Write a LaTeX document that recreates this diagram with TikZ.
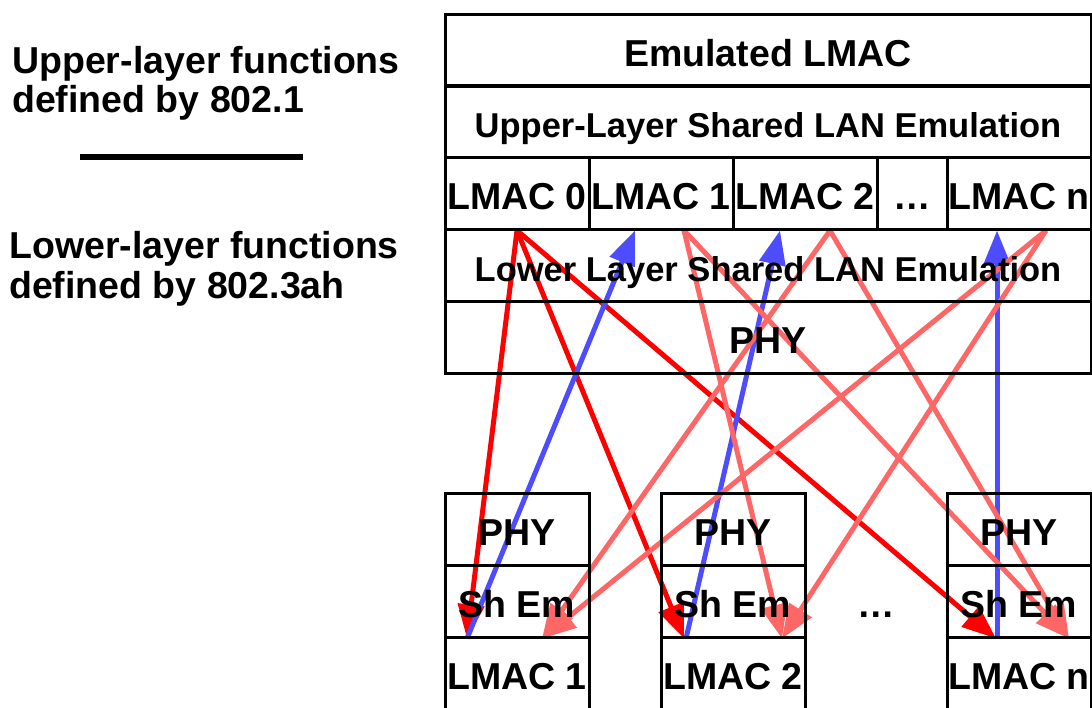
\documentclass[tikz,border=0pt]{standalone}
\usepackage{fontspec}
\setmainfont{Liberation Sans}
\usetikzlibrary{arrows.meta, backgrounds}
\definecolor{dnred}{RGB}{255,0,0}
\definecolor{emred}{RGB}{255,102,102}
\definecolor{upblue}{RGB}{77,77,255}
\tikzset {
    x=1pt, y=-1pt,
    cell/.style={draw, line width=3pt, inner sep=0pt, minimum height=72pt,
        font=\fontsize{37.5}{44}\selectfont\bfseries, text height=32pt, text depth=0pt},
    wide/.style={cell, minimum width=646pt},
    slot/.style={cell, minimum width=144pt},
    sidetext/.style={anchor=base west, inner sep=0pt, font=\fontsize{37.5}{44}\selectfont\bfseries},
    link/.style={line width=5pt, -{Triangle[length=34pt, width=26pt]}}
}

\begin{document}
\begin{tikzpicture}
                    \useasboundingbox (0,0) rectangle (1092,707);

                    \node[sidetext] (upA) at (12,73) {Upper-layer functions};
                    \node[sidetext] (upB) at (12,112) {defined by 802.1};
                    \draw[line width=6pt] (80,157) -- (303,157);
                    \node[sidetext] (loA) at (9,258) {Lower-layer functions};
                    \node[sidetext] (loB) at (9,298) {defined by 802.3ah};

                    \node[wide] (emu) at (768,50) {Emulated LMAC};
                    \node[wide, font=\fontsize{34.5}{40}\selectfont\bfseries] (ulse) at (768,121.5) {Upper-Layer Shared LAN Emulation};
                    \node[slot] (lmac0) at (517,193) {LMAC 0};
                    \node[slot] (lmac1) at (661,193) {LMAC 1};
                    \node[slot] (lmac2) at (805,193) {LMAC 2};
                    \node[cell, minimum width=70pt] (ldots) at (912,193) {\ldots};
                    \node[slot] (lmacn) at (1019,193) {LMAC n};
                    \node[wide, font=\fontsize{34.5}{40}\selectfont\bfseries] (llse) at (768,265) {Lower Layer Shared LAN Emulation};
                    \node[wide] (phy) at (768,337) {PHY};

                    \node[slot] (phy1) at (517,529) {PHY};
                    \node[slot] (shem1) at (517,601) {Sh Em};
                    \node[slot] (onu1) at (517,673) {LMAC 1};
                    \node[slot] (phy2) at (733,529) {PHY};
                    \node[slot] (shem2) at (733,601) {Sh Em};
                    \node[slot] (onu2) at (733,673) {LMAC 2};
                    \node[cell, draw=none] (bdots) at (876,601) {\ldots};
                    \node[slot] (phyn) at (1019,529) {PHY};
                    \node[slot] (shemn) at (1019,601) {Sh Em};
                    \node[slot] (onun) at (1019,673) {LMAC n};

                    \begin{scope}[on background layer]
                    \draw[link, dnred] (lmac0.south) -- ([xshift=-50pt]shem1.south);
                    \draw[link, dnred] (lmac0.south) -- ([xshift=-49pt]shem2.south);
                    \draw[link, dnred] (lmac0.south) -- ([xshift=-23pt]shemn.south);

                    \draw[link, upblue] ([xshift=-50pt]shem1.south) -- ([xshift=-26pt]lmac1.south);
                    \draw[link, upblue] ([xshift=-47pt]shem2.south) -- ([xshift=-25pt]lmac2.south);
                    \draw[link, upblue] ([xshift=-22pt]shemn.south) -- ([xshift=-22pt]lmacn.south);

                    \draw[link, emred] ([xshift=23pt]lmac1.south) -- ([xshift=49pt]shem2.south);
                    \draw[link, emred] ([xshift=23pt]lmac1.south) -- ([xshift=50pt]shemn.south);
                    \draw[link, emred] ([xshift=25pt]lmac2.south) -- ([xshift=25pt]shem1.south);
                    \draw[link, emred] ([xshift=25pt]lmac2.south) -- ([xshift=50pt]shemn.south);
                    \draw[link, emred] ([xshift=27pt]lmacn.south) -- ([xshift=25pt]shem1.south);
                    \draw[link, emred] ([xshift=27pt]lmacn.south) -- ([xshift=49pt]shem2.south);
                    \end{scope}
                    \end{tikzpicture}
\end{document}
